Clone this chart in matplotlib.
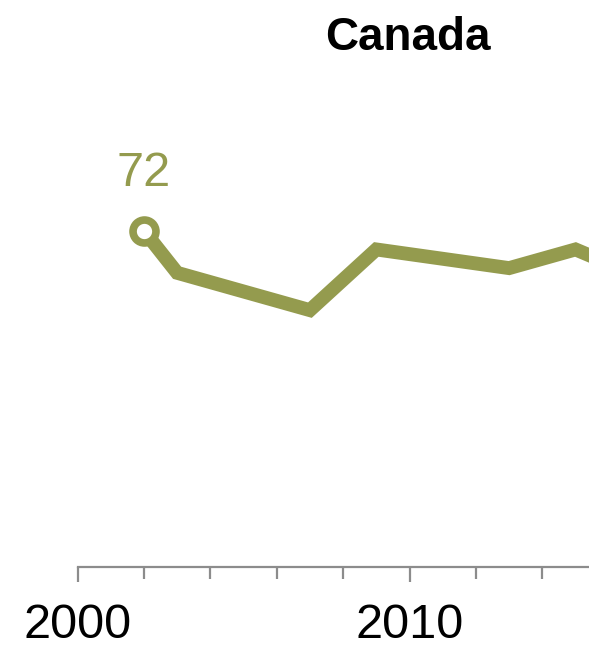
import matplotlib
matplotlib.use("Agg")
import matplotlib.pyplot as plt
from matplotlib.ticker import FixedLocator

# Canada - favorable view of the U.S. (%)
years = [2002, 2003, 2005, 2007, 2009, 2013, 2015, 2016, 2017]
values = [72, 63, 59, 55, 68, 64, 68, 65, 43]
title = "Canada"
major_ticks = [2000, 2010, 2020]
minor_ticks = [2002, 2004, 2006, 2008, 2012, 2014, 2016, 2018]

olive = "#949b4e"
grey = "#8c8c8c"

plt.rcParams['font.family'] = ['Liberation Sans', 'DejaVu Sans']

fig = plt.figure(figsize=(5.89, 6.53), dpi=100)
ax = fig.add_axes([0, 0, 1, 1])

ax.plot(years, values, color=olive, lw=10, solid_joinstyle='miter', zorder=2)
# first point: open circle with its value
ax.plot(years[0], values[0], 'o', ms=16.5, mew=5.5, mec=olive, mfc='white', zorder=3)
ax.annotate(str(values[0]), (years[0], values[0]), xytext=(0, 32),
            textcoords='offset points', ha='center', va='baseline',
            fontsize=35, color=olive)

# pixel mapping: 2000 at x=77.5, 33.2 px/yr ; y=0 at row 567, 4.67 px/unit
ax.set_xlim(2000 - 77.5 / 33.2, 2000 + 511.5 / 33.2)
ax.set_ylim(-86 / 4.67, 567 / 4.67)

for s in ['top', 'right', 'left']:
    ax.spines[s].set_visible(False)
ax.spines['bottom'].set_position(('data', 0))
ax.spines['bottom'].set_bounds(2000, 2020)
ax.spines['bottom'].set_color(grey)
ax.spines['bottom'].set_linewidth(1.6)

ax.xaxis.set_major_locator(FixedLocator(major_ticks))
ax.xaxis.set_minor_locator(FixedLocator(minor_ticks))
ax.set_xticklabels([str(y) for y in major_ticks])
ax.tick_params(axis='x', which='major', direction='out', length=11, width=1.6,
               color=grey, labelsize=35, pad=15, labelcolor='black')
ax.tick_params(axis='x', which='minor', direction='out', length=8.5, width=1.6,
               color=grey)
ax.set_yticks([])

fig.text(407.5 / 589, 1 - 50 / 653, title, ha='center', va='baseline',
         fontsize=33, fontweight='bold', color='black')

fig.savefig("out.png", dpi=100, facecolor='white')
